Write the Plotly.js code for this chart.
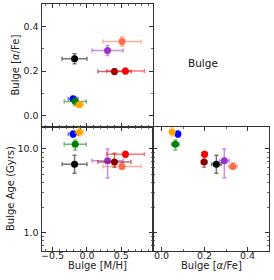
<!DOCTYPE html>
<html>
<head>
<meta charset="utf-8">
<script src="https://cdn.plot.ly/plotly-3.0.1.min.js"></script>
<style>html,body{margin:0;padding:0;background:#fff}#chart{width:274px;height:280px}</style>
</head>
<body>
<div id="chart"></div>
<script>
// Data (one entry per galaxy)
const colors   = ['#000000','#9932CC','#FF6A4D','#8B0000','#FF0000','#0000FF','#008000','#FFA500'];
const mh       = [-0.18, 0.30, 0.51, 0.40, 0.56, -0.20, -0.17, -0.11];
const mhErr    = [0.18, 0.225, 0.275, 0.24, 0.275, 0.07, 0.16, 0.06];
const alphaFe  = [0.255, 0.292, 0.332, 0.198, 0.200, 0.076, 0.064, 0.049];
const alphaErr = [0.022, 0.022, 0.020, 0.013, 0.013, 0.010, 0.018, 0.010];
const age      = [6.56, 7.2, 6.15, 7.0, 8.65, 15.1, 11.4, 16.0];
const agePlus  = [1.85, 2.8, 0.7, 1.9, 0.65, 1.3, 1.4, 2.3];
const ageMinus = [1.45, 2.7, 0.4, 0.95, 0.75, 1.3, 1.7, 1.7];
const ageTickVals = [1, 10];
const ageTickText = ['1.0', '10.0'];
const ageMinorVals = [0.6,0.7,0.8,0.9,2,3,4,5,6,7,8,9,20];

function rgba(hex, a){
  const r=parseInt(hex.slice(1,3),16), g=parseInt(hex.slice(3,5),16), b=parseInt(hex.slice(5,7),16);
  return `rgba(${r},${g},${b},${a})`;
}

const traces = [];
for (let i = 0; i < colors.length; i++) {
  const ec = rgba(colors[i],0.55);
  const symX = (arr) => ({type:'data', array:[arr[i]], color:ec, thickness:1.5, width:2});
  const ageY = {type:'data', symmetric:false, array:[agePlus[i]], arrayminus:[ageMinus[i]], color:ec, thickness:1.5, width:2};
  traces.push({x:[mh[i]], y:[alphaFe[i]], xaxis:'x', yaxis:'y', mode:'markers', type:'scatter',
    marker:{color:colors[i], size:7}, error_x:symX(mhErr), error_y:symX(alphaErr), showlegend:false, hoverinfo:'skip'});
  traces.push({x:[mh[i]], y:[age[i]], xaxis:'x2', yaxis:'y2', mode:'markers', type:'scatter',
    marker:{color:colors[i], size:7}, error_x:symX(mhErr), error_y:ageY, showlegend:false, hoverinfo:'skip'});
  traces.push({x:[alphaFe[i]], y:[age[i]], xaxis:'x3', yaxis:'y3', mode:'markers', type:'scatter',
    marker:{color:colors[i], size:7}, error_x:symX(alphaErr), error_y:ageY, showlegend:false, hoverinfo:'skip'});
}

const W = 274, H = 280;
const xL = [41.5/W, 153/W], xR = [153/W, 269/W];
const yT = [1-127/H, 1-4/H], yB = [1-250.5/H, 1-127/H];
const fam = 'DejaVu Sans, sans-serif';
const tickFont = {family:fam, size:9.5, color:'#222'};
const titleFont = {family:fam, size:10, color:'#222'};
const base = {showgrid:false, zeroline:false, showline:true, linecolor:'#333', linewidth:1,
  mirror:'allticks', ticks:'inside', ticklen:4, tickwidth:1, tickcolor:'#333', tickfont:tickFont};
const minor = (d) => ({ticks:'inside', ticklen:2, tickwidth:0.8, tickcolor:'#444', dtick:d, showgrid:false});
const logMinor = {ticks:'inside', ticklen:2, tickwidth:0.8, tickcolor:'#444', tickmode:'array', tickvals:ageMinorVals, showgrid:false};
const ageRange = [Math.log10(0.61), Math.log10(18.3)];

const ann = (text, x, y, angle) => ({text:text, x:x/W, y:1-y/H, xref:'paper', yref:'paper', showarrow:false,
  xanchor:'center', yanchor:'middle', textangle:angle||0, font:titleFont});

const layout = {
  width: W, height: H, margin:{l:0,r:0,t:0,b:0}, paper_bgcolor:'#fff', plot_bgcolor:'rgba(0,0,0,0)',
  font: titleFont,
  xaxis: Object.assign({}, base, {domain:xL, anchor:'y', range:[-0.66,0.96], dtick:0.5, tick0:0, showticklabels:false, minor:minor(0.1)}),
  yaxis: Object.assign({}, base, {domain:yT, anchor:'x', range:[-0.05,0.5], dtick:0.2, tick0:0, tickformat:'.1f', minor:minor(0.1)}),
  xaxis2: Object.assign({}, base, {domain:xL, anchor:'y2', range:[-0.66,0.96], dtick:0.5, tick0:0, tickformat:'.1f', minor:minor(0.1), ticklabelstandoff:-4}),
  yaxis2: Object.assign({}, base, {domain:yB, anchor:'x2', type:'log', range:ageRange,
    tickmode:'array', tickvals:ageTickVals, ticktext:ageTickText, minor:logMinor}),
  xaxis3: Object.assign({}, base, {domain:xR, anchor:'y3', range:[-0.04,0.5], dtick:0.2, tick0:0, tickformat:'.1f', minor:minor(0.1), ticklabelstandoff:-4}),
  yaxis3: Object.assign({}, base, {domain:yB, anchor:'x3', type:'log', range:ageRange,
    tickmode:'array', tickvals:ageTickVals, ticktext:ageTickText, showticklabels:false, minor:logMinor}),
  annotations: [
    ann('Bulge [M/H]', 97.25, 265.5),
    ann('Bulge [<i>α</i>/Fe]', 211, 265.5),
    ann('Bulge [<i>α</i>/Fe]', 15, 65.5, -90),
    ann('Bulge Age (Gyrs)', 10, 189, -90),
    {text:'Bulge', x:202.5/W, y:1-63/H, xref:'paper', yref:'paper', showarrow:false, xanchor:'center', yanchor:'middle',
     font:{family:fam, size:10.5, color:'#111'}}
  ]
};

Plotly.newPlot('chart', traces, layout, {staticPlot:true, displayModeBar:false});
</script>
</body>
</html>
